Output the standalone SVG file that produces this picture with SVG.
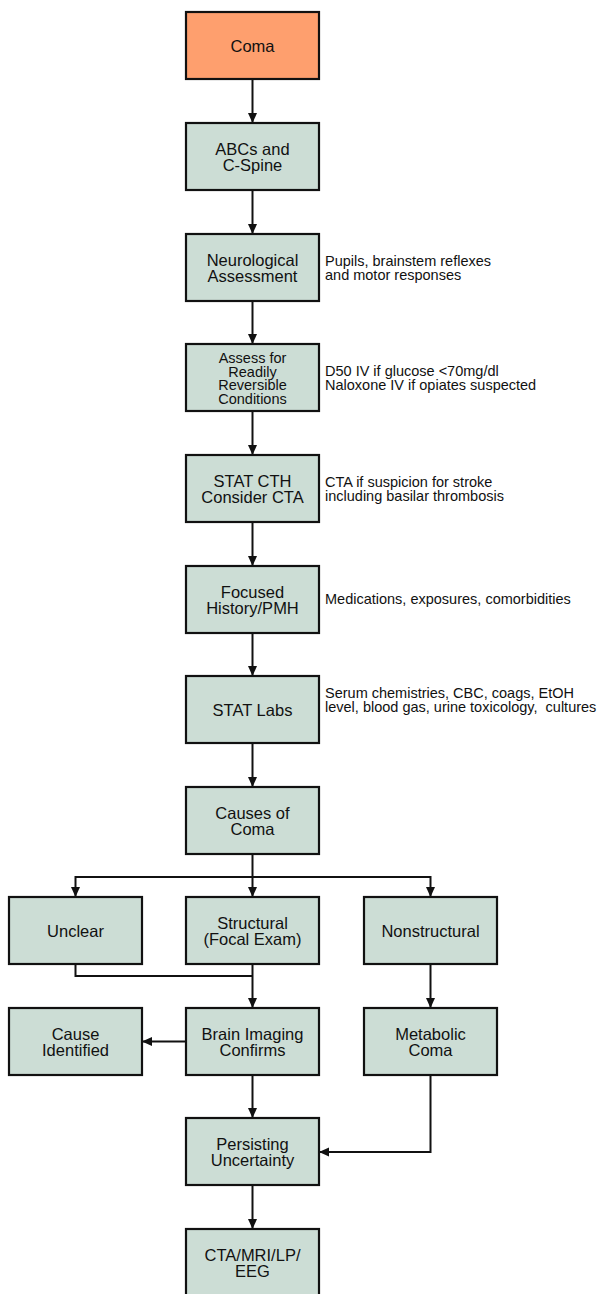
<svg xmlns="http://www.w3.org/2000/svg" width="604" height="1294" viewBox="0 0 604 1294">
<style>
.box{fill:#ccddd5;stroke:#111;stroke-width:2.2}
.start{fill:#fe9f6e;stroke:#111;stroke-width:2.2}
.t{font-family:"Liberation Sans",Arial,sans-serif;font-size:16.5px;fill:#111;text-anchor:middle}
.ts{font-family:"Liberation Sans",Arial,sans-serif;font-size:14.5px;fill:#111;text-anchor:middle}
.side{font-family:"Liberation Sans",Arial,sans-serif;font-size:14.5px;fill:#111;white-space:pre}
.c{fill:none;stroke:#111;stroke-width:2}
</style>
<defs>
<marker id="arr" markerUnits="userSpaceOnUse" markerWidth="10" markerHeight="10" refX="10" refY="4.5" orient="auto">
<path d="M0,0 L10,4.5 L0,9 z" fill="#111"/>
</marker>
</defs>
<rect width="604" height="1294" fill="#fff"/>
<g id="connectors">
<path class="c" d="M252.5 79 V123" marker-end="url(#arr)"/>
<path class="c" d="M252.5 190 V234" marker-end="url(#arr)"/>
<path class="c" d="M252.5 301 V344" marker-end="url(#arr)"/>
<path class="c" d="M252.5 411 V455" marker-end="url(#arr)"/>
<path class="c" d="M252.5 522 V566" marker-end="url(#arr)"/>
<path class="c" d="M252.5 633 V676" marker-end="url(#arr)"/>
<path class="c" d="M252.5 743 V787" marker-end="url(#arr)"/>
<path class="c" d="M252.5 854 V897" marker-end="url(#arr)"/>
<path class="c" d="M75.5 877 H430.5"/>
<path class="c" d="M75.5 876 V897" marker-end="url(#arr)"/>
<path class="c" d="M430.5 876 V897" marker-end="url(#arr)"/>
<path class="c" d="M75.5 964 V976 H252.5"/>
<path class="c" d="M252.5 964 V1008" marker-end="url(#arr)"/>
<path class="c" d="M430.5 964 V1008" marker-end="url(#arr)"/>
<path class="c" d="M186 1041.5 H142" marker-end="url(#arr)"/>
<path class="c" d="M252.5 1075 V1118" marker-end="url(#arr)"/>
<path class="c" d="M430.5 1075 V1152 H319" marker-end="url(#arr)"/>
<path class="c" d="M252.5 1185 V1229" marker-end="url(#arr)"/>
</g>
<g id="coma"><rect class="start" x="186" y="12" width="133" height="67"/><text class="t" x="252.5" y="51.5">Coma</text></g>
<g id="abcs"><rect class="box" x="186" y="123" width="133" height="67"/><text class="t" x="252.5" y="154.5">ABCs and</text><text class="t" x="252.5" y="170.7">C-Spine</text></g>
<g id="neuro"><rect class="box" x="186" y="234" width="133" height="67"/><text class="t" x="252.5" y="265.5">Neurological</text><text class="t" x="252.5" y="281.5">Assessment</text>
<text class="side" x="325" y="265.5">Pupils, brainstem reflexes</text><text class="side" x="325" y="279.5">and motor responses</text></g>
<g id="assess"><rect class="box" x="186" y="344" width="133" height="67"/><text class="ts" x="252.5" y="363.3">Assess for</text><text class="ts" x="252.5" y="376.8">Readily</text><text class="ts" x="252.5" y="390.3">Reversible</text><text class="ts" x="252.5" y="403.8">Conditions</text>
<text class="side" x="325" y="376.3">D50 IV if glucose &lt;70mg/dl</text><text class="side" x="325" y="390.3">Naloxone IV if opiates suspected</text></g>
<g id="cth"><rect class="box" x="186" y="455" width="133" height="67"/><text class="t" x="252.5" y="486.5">STAT CTH</text><text class="t" x="252.5" y="502.5">Consider CTA</text>
<text class="side" x="325" y="486.5">CTA if suspicion for stroke</text><text class="side" x="325" y="500.5">including basilar thrombosis</text></g>
<g id="history"><rect class="box" x="186" y="566" width="133" height="67"/><text class="t" x="252.5" y="597.5">Focused</text><text class="t" x="252.5" y="613.5">History/PMH</text>
<text class="side" x="325" y="604">Medications, exposures, comorbidities</text></g>
<g id="labs"><rect class="box" x="186" y="676" width="133" height="67"/><text class="t" x="252.5" y="715.5">STAT Labs</text>
<text class="side" x="325" y="698">Serum chemistries, CBC, coags, EtOH</text><text class="side" x="325" y="712" xml:space="preserve">level, blood gas, urine toxicology,  cultures</text></g>
<g id="causes"><rect class="box" x="186" y="787" width="133" height="67"/><text class="t" x="252.5" y="818.5">Causes of</text><text class="t" x="252.5" y="834.5">Coma</text></g>
<g id="unclear"><rect class="box" x="9" y="897" width="133" height="67"/><text class="t" x="75.5" y="936.5">Unclear</text></g>
<g id="structural"><rect class="box" x="186" y="897" width="133" height="67"/><text class="t" x="252.5" y="928.5">Structural</text><text class="t" x="252.5" y="944.5">(Focal Exam)</text></g>
<g id="nonstructural"><rect class="box" x="364" y="897" width="133" height="67"/><text class="t" x="430.5" y="936.5">Nonstructural</text></g>
<g id="cause-identified"><rect class="box" x="9" y="1008" width="133" height="67"/><text class="t" x="75.5" y="1039.5">Cause</text><text class="t" x="75.5" y="1055.5">Identified</text></g>
<g id="brain-imaging"><rect class="box" x="186" y="1008" width="133" height="67"/><text class="t" x="252.5" y="1039.5">Brain Imaging</text><text class="t" x="252.5" y="1055.5">Confirms</text></g>
<g id="metabolic"><rect class="box" x="364" y="1008" width="133" height="67"/><text class="t" x="430.5" y="1039.5">Metabolic</text><text class="t" x="430.5" y="1055.5">Coma</text></g>
<g id="persisting"><rect class="box" x="186" y="1118" width="133" height="67"/><text class="t" x="252.5" y="1149.5">Persisting</text><text class="t" x="252.5" y="1165.5">Uncertainty</text></g>
<g id="cta-mri"><rect class="box" x="186" y="1229" width="133" height="67"/><text class="t" x="252.5" y="1260.5">CTA/MRI/LP/</text><text class="t" x="252.5" y="1276.5">EEG</text></g>
</svg>
